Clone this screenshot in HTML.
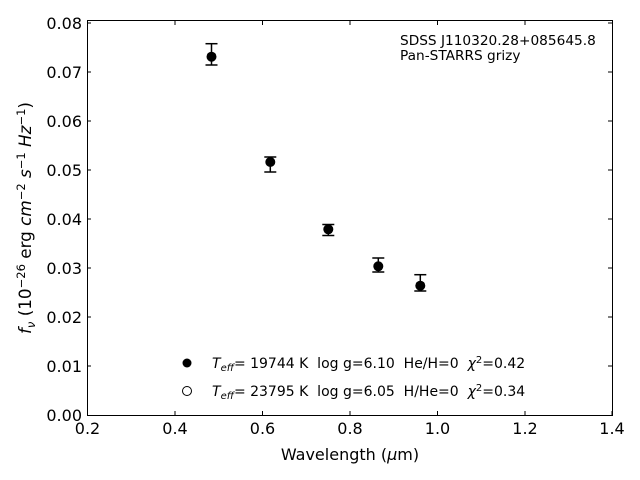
<!DOCTYPE html>
<html><head><style>body{margin:0;background:#fff}svg{display:block}text{white-space:pre}</style></head><body>
<svg width="640" height="480" xmlns="http://www.w3.org/2000/svg" font-family="DejaVu Sans, Liberation Sans, sans-serif">
<rect width="640" height="480" fill="#fff"/>
<rect x="87.5" y="20.5" width="525" height="395" fill="none" stroke="#000" stroke-width="1"/>
<g stroke="#000" stroke-width="1">
<line x1="87.5" y1="415" x2="87.5" y2="411"/><line x1="175" y1="415" x2="175" y2="411"/><line x1="262.5" y1="415" x2="262.5" y2="411"/><line x1="350" y1="415" x2="350" y2="411"/><line x1="437.5" y1="415" x2="437.5" y2="411"/><line x1="525" y1="415" x2="525" y2="411"/><line x1="612" y1="415" x2="612" y2="411"/>
<line x1="175" y1="21" x2="175" y2="25"/><line x1="262.5" y1="21" x2="262.5" y2="25"/><line x1="350" y1="21" x2="350" y2="25"/><line x1="437.5" y1="21" x2="437.5" y2="25"/><line x1="525" y1="21" x2="525" y2="25"/>
<line x1="87" y1="366" x2="91" y2="366"/><line x1="87" y1="317" x2="91" y2="317"/><line x1="87" y1="268" x2="91" y2="268"/><line x1="87" y1="219" x2="91" y2="219"/><line x1="87" y1="170" x2="91" y2="170"/><line x1="87" y1="121" x2="91" y2="121"/><line x1="87" y1="72" x2="91" y2="72"/><line x1="87" y1="23" x2="91" y2="23"/>
<line x1="612" y1="366" x2="608" y2="366"/><line x1="612" y1="317" x2="608" y2="317"/><line x1="612" y1="268" x2="608" y2="268"/><line x1="612" y1="219" x2="608" y2="219"/><line x1="612" y1="170" x2="608" y2="170"/><line x1="612" y1="121" x2="608" y2="121"/><line x1="612" y1="72" x2="608" y2="72"/><line x1="612" y1="23" x2="608" y2="23"/>
</g>
<g font-size="16" text-anchor="middle" fill="#000">
<text x="87.5" y="434">0.2</text><text x="175" y="434">0.4</text><text x="262.5" y="434">0.6</text><text x="350" y="434">0.8</text><text x="437.5" y="434">1.0</text><text x="525" y="434">1.2</text><text x="612" y="434">1.4</text>
</g>
<g font-size="16" text-anchor="end" fill="#000">
<text x="82" y="421">0.00</text><text x="82" y="372">0.01</text><text x="82" y="323">0.02</text><text x="82" y="274">0.03</text><text x="82" y="225">0.04</text><text x="82" y="176">0.05</text><text x="82" y="127">0.06</text><text x="82" y="78">0.07</text><text x="82" y="29">0.08</text>
</g>
<text x="350" y="460" font-size="16" text-anchor="middle">Wavelength (<tspan font-style="italic">μ</tspan>m)</text>
<text transform="translate(31,218) rotate(-90)" font-size="16.8" text-anchor="middle"><tspan font-style="italic">f<tspan font-size="11.5" dy="4">ν</tspan></tspan><tspan dy="-4"> (10</tspan><tspan font-size="11.5" dy="-6">−26</tspan><tspan dy="6"> erg </tspan><tspan font-style="italic">cm</tspan><tspan font-size="11.5" dy="-6">−2</tspan><tspan dy="6" font-style="italic"> s</tspan><tspan font-size="11.5" dy="-6">−1</tspan><tspan dy="6" font-style="italic"> Hz</tspan><tspan font-size="11.5" dy="-6">−1</tspan><tspan dy="6">)</tspan></text>
<text x="400" y="45" font-size="13.7">SDSS J110320.28+085645.8</text>
<text x="400" y="60" font-size="13.7">Pan-STARRS grizy</text>
<g stroke="#000" stroke-width="1.5" fill="#000">
<line x1="211.5" y1="43.7" x2="211.5" y2="65"/><line x1="205.5" y1="43.7" x2="217.5" y2="43.7"/><line x1="205.5" y1="65" x2="217.5" y2="65"/><circle cx="211.5" cy="56.7" r="5" stroke="none"/>
<line x1="270.3" y1="157" x2="270.3" y2="172"/><line x1="264.3" y1="157" x2="276.3" y2="157"/><line x1="264.3" y1="172" x2="276.3" y2="172"/><circle cx="270.3" cy="162" r="5" stroke="none"/>
<line x1="328.3" y1="224.5" x2="328.3" y2="235.5"/><line x1="322.3" y1="224.5" x2="334.3" y2="224.5"/><line x1="322.3" y1="235.5" x2="334.3" y2="235.5"/><circle cx="328.3" cy="229.3" r="5" stroke="none"/>
<line x1="378.3" y1="258" x2="378.3" y2="272"/><line x1="372.3" y1="258" x2="384.3" y2="258"/><line x1="372.3" y1="272" x2="384.3" y2="272"/><circle cx="378.3" cy="266.3" r="5" stroke="none"/>
<line x1="420.3" y1="274.7" x2="420.3" y2="291"/><line x1="414.3" y1="274.7" x2="426.3" y2="274.7"/><line x1="414.3" y1="291" x2="426.3" y2="291"/><circle cx="420.3" cy="285.7" r="5" stroke="none"/>
</g>
<circle cx="187" cy="363" r="4.5" fill="#000"/>
<circle cx="187" cy="391" r="4.5" fill="#fff" stroke="#000" stroke-width="1"/>
<text x="212" y="368" font-size="14"><tspan font-style="italic">T<tspan font-size="10" dy="3">eff</tspan></tspan><tspan dy="-3">= 19744 K  log g=6.10  He/H=0  </tspan><tspan font-style="italic">χ</tspan><tspan font-size="10" dy="-5">2</tspan><tspan dy="5">=0.42</tspan></text>
<text x="212" y="396" font-size="14"><tspan font-style="italic">T<tspan font-size="10" dy="3">eff</tspan></tspan><tspan dy="-3">= 23795 K  log g=6.05  H/He=0  </tspan><tspan font-style="italic">χ</tspan><tspan font-size="10" dy="-5">2</tspan><tspan dy="5">=0.34</tspan></text>
</svg>
</body></html>
